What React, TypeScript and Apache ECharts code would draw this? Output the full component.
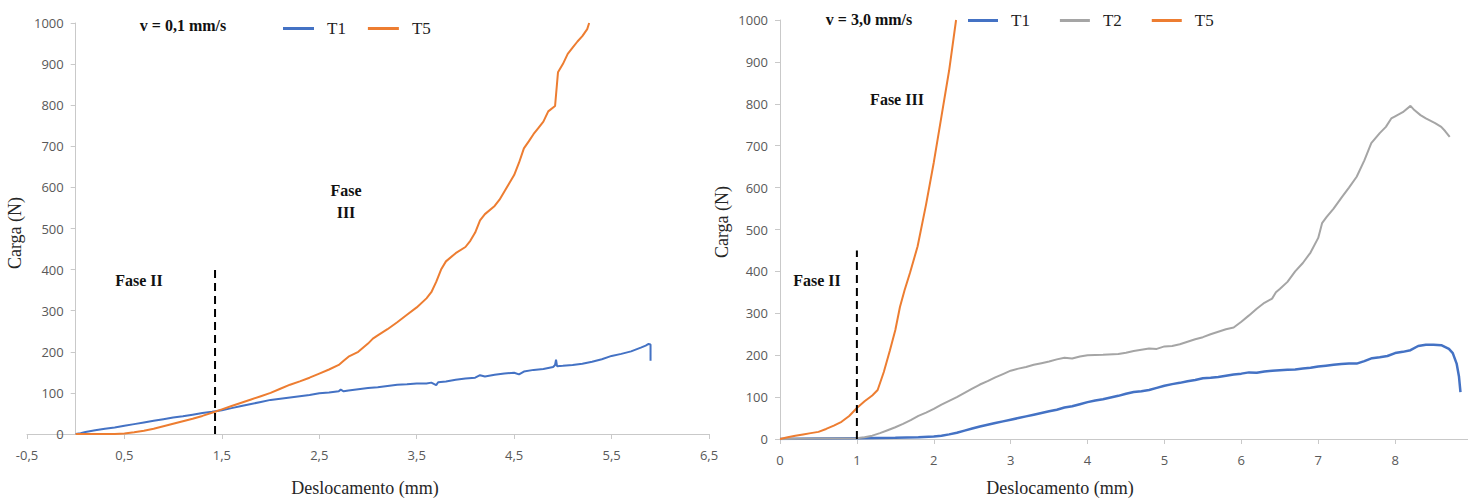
import React, { useEffect, useRef } from "react";
import * as echarts from "echarts";

// ---------- DATA ----------
// Left panel: v = 0,1 mm/s  (Deslocamento mm, Carga N)
const leftT1: [number, number][] = [
  [0, 0], [0.05, 2], [0.1, 5], [0.2, 9], [0.3, 13], [0.4, 16], [0.5, 20], [0.6, 24], [0.7, 28],
  [0.8, 32], [0.9, 36], [1.0, 40], [1.1, 43], [1.2, 47], [1.3, 51], [1.4, 54], [1.5, 58],
  [1.6, 63], [1.7, 68], [1.8, 73], [1.9, 78], [2.0, 83], [2.1, 86], [2.2, 89], [2.3, 92],
  [2.4, 95], [2.5, 99], [2.6, 101], [2.7, 104], [2.72, 108], [2.75, 104], [2.8, 106],
  [2.9, 109], [3.0, 112], [3.1, 114], [3.2, 117], [3.3, 120], [3.4, 121], [3.5, 123],
  [3.6, 123], [3.65, 125], [3.7, 119], [3.72, 126], [3.8, 128], [3.9, 132], [4.0, 135],
  [4.1, 137], [4.15, 143], [4.2, 140], [4.3, 144], [4.4, 147], [4.5, 149], [4.55, 145],
  [4.6, 152], [4.7, 156], [4.8, 158], [4.9, 163], [4.92, 168], [4.93, 181], [4.94, 165],
  [5.0, 166], [5.1, 168], [5.2, 171], [5.3, 176], [5.4, 182], [5.5, 190], [5.6, 195],
  [5.7, 201], [5.8, 210], [5.85, 215], [5.88, 219], [5.9, 218], [5.9, 178],
];
const leftT5: [number, number][] = [
  [0, 0], [0.2, 0], [0.4, 0], [0.5, 1], [0.6, 4], [0.7, 8], [0.8, 13], [0.9, 19], [1.0, 25],
  [1.1, 31], [1.2, 37], [1.3, 44], [1.43, 54], [1.5, 60], [1.6, 68], [1.7, 76], [1.8, 84],
  [1.9, 92], [2.0, 100], [2.1, 110], [2.2, 120], [2.3, 128], [2.4, 137], [2.5, 147],
  [2.6, 157], [2.7, 168], [2.75, 178], [2.8, 188], [2.9, 200], [3.0, 220], [3.05, 232],
  [3.1, 240], [3.2, 255], [3.3, 272], [3.4, 290], [3.5, 308], [3.6, 330], [3.65, 345],
  [3.7, 370], [3.75, 400], [3.8, 420], [3.9, 440], [4.0, 455], [4.05, 470], [4.1, 490],
  [4.15, 520], [4.2, 535], [4.3, 555], [4.35, 570], [4.4, 590], [4.45, 610], [4.5, 630],
  [4.55, 660], [4.6, 695], [4.65, 712], [4.7, 730], [4.75, 745], [4.8, 760], [4.85, 785],
  [4.92, 798], [4.95, 880], [5.0, 900], [5.05, 925], [5.1, 940], [5.15, 955], [5.2, 968],
  [5.25, 985], [5.27, 1000],
];
const leftPhaseLine: [number, number][] = [[1.43, 0], [1.43, 410]];

// Right panel: v = 3,0 mm/s
const rightT1: [number, number][] = [
  [0, 0], [0.5, 1], [1.0, 2], [1.5, 3], [1.8, 4], [2.0, 6], [2.1, 8], [2.2, 11], [2.3, 15],
  [2.4, 20], [2.5, 25], [2.6, 30], [2.7, 34], [2.8, 38], [2.9, 42], [3.0, 46], [3.1, 50],
  [3.2, 54], [3.3, 58], [3.4, 62], [3.5, 66], [3.6, 70], [3.7, 75], [3.8, 78], [3.9, 83],
  [4.0, 88], [4.1, 92], [4.2, 95], [4.3, 99], [4.4, 103], [4.5, 108], [4.6, 112], [4.7, 114],
  [4.8, 117], [4.9, 122], [5.0, 127], [5.1, 131], [5.2, 134], [5.3, 138], [5.4, 141],
  [5.5, 145], [5.6, 146], [5.7, 148], [5.8, 151], [5.9, 154], [6.0, 156], [6.1, 159],
  [6.2, 158], [6.3, 161], [6.4, 163], [6.5, 164], [6.6, 165], [6.7, 166], [6.8, 168],
  [6.9, 170], [7.0, 173], [7.1, 175], [7.2, 177], [7.3, 179], [7.4, 180], [7.5, 180],
  [7.6, 186], [7.7, 193], [7.8, 195], [7.9, 198], [8.0, 205], [8.1, 208], [8.2, 212],
  [8.3, 222], [8.4, 225], [8.5, 225], [8.6, 224], [8.7, 215], [8.75, 205], [8.8, 180],
  [8.83, 150], [8.85, 112],
];
const rightT2: [number, number][] = [
  [0, 0], [0.5, 1], [1.0, 2], [1.1, 4], [1.2, 8], [1.3, 14], [1.4, 21], [1.5, 28], [1.6, 36],
  [1.7, 45], [1.8, 55], [1.9, 63], [2.0, 72], [2.1, 82], [2.2, 91], [2.3, 100], [2.4, 110],
  [2.5, 120], [2.6, 130], [2.7, 138], [2.8, 147], [2.9, 155], [3.0, 163], [3.1, 168],
  [3.2, 172], [3.3, 177], [3.4, 181], [3.5, 185], [3.6, 190], [3.7, 194], [3.8, 192],
  [3.9, 197], [4.0, 200], [4.2, 201], [4.4, 203], [4.5, 206], [4.6, 210], [4.7, 213],
  [4.8, 216], [4.9, 215], [5.0, 221], [5.1, 222], [5.2, 226], [5.3, 232], [5.4, 238],
  [5.5, 243], [5.6, 250], [5.7, 256], [5.8, 262], [5.9, 266], [6.0, 280], [6.1, 295],
  [6.2, 311], [6.3, 325], [6.4, 335], [6.45, 350], [6.5, 358], [6.6, 375], [6.7, 400],
  [6.8, 420], [6.9, 445], [7.0, 480], [7.05, 515], [7.11, 530], [7.2, 550], [7.31, 578],
  [7.4, 600], [7.5, 626], [7.6, 665], [7.69, 706], [7.8, 730], [7.88, 745], [7.95, 765],
  [8.0, 770], [8.1, 780], [8.2, 795], [8.25, 785], [8.33, 773], [8.4, 765], [8.52, 754],
  [8.6, 745], [8.65, 735], [8.71, 721],
];
const rightT5: [number, number][] = [
  [0, 0], [0.1, 4], [0.2, 8], [0.3, 11], [0.4, 14], [0.5, 17], [0.6, 24], [0.7, 32],
  [0.8, 41], [0.9, 55], [1.0, 74], [1.1, 90], [1.2, 104], [1.27, 117], [1.35, 160],
  [1.43, 212], [1.5, 260], [1.56, 315], [1.62, 355], [1.69, 396], [1.79, 460], [1.9, 560],
  [2.0, 660], [2.1, 770], [2.2, 880], [2.29, 1000],
];
const rightPhaseLine: [number, number][] = [[1, 0], [1, 450]];

const leftLegend = ["T1", "T5"];
const rightLegend = ["T1", "T2", "T5"];

const BLUE = "#4472C4";
const ORANGE = "#ED7D31";
const GRAY = "#A5A5A5";

const NUM_FONT = "'Open Sans', 'DejaVu Sans', sans-serif";
const SERIF = "'Liberation Serif', 'DejaVu Serif', serif";

// left panel geometry: x-axis -0.5..6.5 across 682 px; the y axis crosses at x = 0
const LEFT_GRID_X = 27;
const LEFT_GRID_W = 682;
const LEFT_X_MIN = -0.5;
const LEFT_X_MAX = 6.5;
const LEFT_Y_OFFSET = -((0 - LEFT_X_MIN) / (LEFT_X_MAX - LEFT_X_MIN)) * LEFT_GRID_W;

function textEl(text: string, x: number, y: number, size: number, bold: boolean, color: string, rotation = 0) {
  return {
    type: "text",
    x,
    y,
    rotation,
    silent: true,
    style: {
      text,
      fontSize: size,
      fontFamily: SERIF,
      fontWeight: bold ? "bold" : "normal",
      fill: color,
      align: "center",
      verticalAlign: "middle",
      textAlign: "center",
      textVerticalAlign: "middle",
    },
  };
}

export default function App() {
  const ref = useRef<HTMLDivElement>(null);

  useEffect(() => {
    if (!ref.current) return;
    const chart = echarts.init(ref.current, undefined, { renderer: "svg" });

    const axisLine = { show: true, onZero: false, lineStyle: { color: "#C9C9C9", width: 1 } };
    const axisTick = { show: true, length: 5, inside: false, lineStyle: { color: "#C9C9C9" } };
    const axisLabelBase = {
      color: "#595959", fontSize: 13, fontFamily: NUM_FONT,
      formatter: (v: number) => String(v),
    };

    const lineSeries = (name: string, data: [number, number][], color: string, width: number, idx: number) => ({
      type: "line",
      name,
      data,
      xAxisIndex: idx,
      yAxisIndex: idx,
      symbol: "none",
      showSymbol: false,
      smooth: false,
      lineStyle: { color, width },
      itemStyle: { color },
      z: 3,
    });
    const dashSeries = (name: string, data: [number, number][], idx: number) => ({
      type: "line",
      name,
      data,
      xAxisIndex: idx,
      yAxisIndex: idx,
      symbol: "none",
      showSymbol: false,
      silent: true,
      lineStyle: { color: "#000", width: 2, type: [8, 5] },
      z: 4,
    });

    const legendBase = {
      orient: "horizontal",
      icon: "rect",
      itemHeight: 3,
      padding: 0,
      textStyle: { fontFamily: SERIF, fontSize: 17, color: "#222", padding: [0, 0, 0, 8] },
    };

    chart.setOption({
      animation: false,
      backgroundColor: "#fff",
      grid: [
        { left: LEFT_GRID_X, top: 23, width: LEFT_GRID_W, height: 411, containLabel: false, outerBoundsMode: "none" },
        { left: 780, top: 20, width: 692, height: 419, containLabel: false, outerBoundsMode: "none" },
      ],
      xAxis: [
        {
          gridIndex: 0, type: "value", min: LEFT_X_MIN, max: LEFT_X_MAX, interval: 1,
          axisLine, axisTick, splitLine: { show: false },
          axisLabel: { ...axisLabelBase, margin: 14, formatter: (v: number) => v.toFixed(1).replace(".", ",") },
        },
        {
          gridIndex: 1, type: "value", min: 0, max: 9, interval: 1,
          axisLine, axisTick, splitLine: { show: false },
          axisLabel: { ...axisLabelBase, margin: 14, showMaxLabel: false },
        },
      ],
      yAxis: [
        {
          gridIndex: 0, type: "value", min: 0, max: 1000, interval: 100,
          offset: LEFT_Y_OFFSET,
          axisLine, axisTick, splitLine: { show: false },
          axisLabel: { ...axisLabelBase, margin: 12 },
        },
        {
          gridIndex: 1, type: "value", min: 0, max: 1000, interval: 100,
          axisLine, axisTick, splitLine: { show: false },
          axisLabel: { ...axisLabelBase, margin: 12 },
        },
      ],
      legend: [
        { ...legendBase, data: leftLegend, left: 283, top: 20, itemWidth: 31, itemGap: 22 },
        { ...legendBase, data: rightLegend, left: 968, top: 12, itemWidth: 30, itemGap: 30 },
      ],
      graphic: [
        textEl("v = 0,1 mm/s", 183, 25, 16, true, "#111"),
        textEl("v = 3,0 mm/s", 869, 19, 16, true, "#111"),
        textEl("Fase", 346, 190, 16, true, "#111"),
        textEl("III", 346, 212, 16, true, "#111"),
        textEl("Fase II", 139, 280, 16, true, "#111"),
        textEl("Fase III", 897, 99, 16, true, "#111"),
        textEl("Fase II", 817, 280, 16, true, "#111"),
        textEl("Carga (N)", 15, 233, 18, false, "#262626", Math.PI / 2),
        textEl("Carga (N)", 722, 222, 18, false, "#262626", Math.PI / 2),
        textEl("Deslocamento (mm)", 365, 488, 18, false, "#262626"),
        textEl("Deslocamento (mm)", 1060, 488, 18, false, "#262626"),
      ],
      series: [
        lineSeries("T1", leftT1, BLUE, 2, 0),
        lineSeries("T5", leftT5, ORANGE, 2, 0),
        dashSeries("Fase II/III (0,1)", leftPhaseLine, 0),
        lineSeries("T1", rightT1, BLUE, 2.5, 1),
        lineSeries("T2", rightT2, GRAY, 2, 1),
        lineSeries("T5", rightT5, ORANGE, 2, 1),
        dashSeries("Fase II/III (3,0)", rightPhaseLine, 1),
      ],
    });

    return () => chart.dispose();
  }, []);

  return (
    <div
      ref={ref}
      style={{ position: "absolute", left: 0, top: 0, width: 1468, height: 498, background: "#fff" }}
    />
  );
}
